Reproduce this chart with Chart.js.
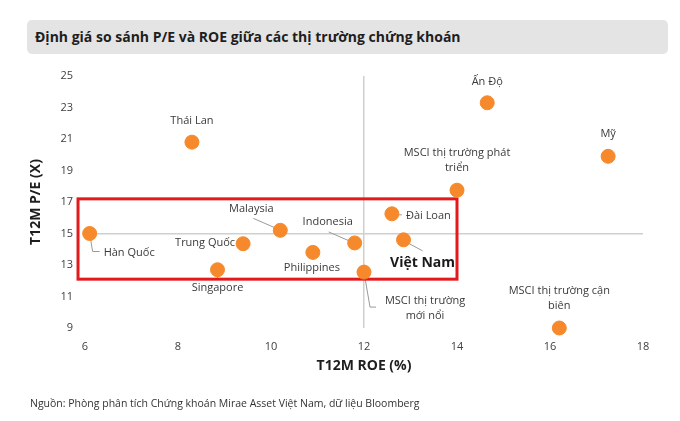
<!DOCTYPE html>
<html>
<head>
<meta charset="utf-8">
<script src="https://cdn.jsdelivr.net/npm/chart.js@4.4.1/dist/chart.umd.min.js"></script>
<style>
  body { margin: 0; background: #fff; }
  #wrap { position: relative; width: 680px; height: 421px; overflow: hidden; }
  #title {
    position: absolute; left: 27px; top: 20px; width: 641px; height: 34px;
    background: #e4e4e4; border-radius: 5px; box-sizing: border-box; padding-left: 8px;
    font: bold 14px "Liberation Sans Narrow", "Open Sans", sans-serif; line-height: 34px; color: #1e1e1e;
  }
  #source {
    position: absolute; left: 30px; top: 396px;
    font: 10.5px "Liberation Sans Narrow", "Open Sans", sans-serif; color: #333;
  }
  canvas { position: absolute; left: 0; top: 0; }
</style>
</head>
<body>
<div id="wrap">
  <canvas id="chart" width="680" height="421"></canvas>
  <div id="title">Định giá so sánh P/E và ROE giữa các thị trường chứng khoán</div>
  <div id="source">Nguồn: Phòng phân tích Chứng khoán Mirae Asset Việt Nam, dữ liệu Bloomberg</div>
</div>
<script>
// Markets, T12M ROE (%) and T12M P/E (x)
const markets = [
  'Hàn Quốc', 'Thái Lan', 'Singapore', 'Trung Quốc', 'Malaysia', 'Philippines', 'Indonesia',
  'MSCI thị trường\nmới nổi', 'Đài Loan', 'Việt Nam', 'MSCI thị trường phát\ntriển',
  'Ấn Độ', 'Mỹ', 'MSCI thị trường cận\nbiên'
];
const roe = [6.1, 8.3, 8.85, 9.4, 10.2, 10.9, 11.8, 12.0, 12.6, 12.85, 14.0, 14.65, 17.25, 16.2];
const pe  = [15.0, 20.8, 12.7, 14.35, 15.2, 13.8, 14.4, 12.55, 16.25, 14.6, 17.75, 23.3, 19.9, 9.0];

const xTicks = [6, 8, 10, 12, 14, 16, 18];
const yTicks = [9, 11, 13, 15, 17, 19, 21, 23, 25];

// highlighted zone (in data units)
const boxRoe = [5.85, 14.0];
const boxPe = [12.1, 17.2];

// label placement relative to each point (pixels): dx, dy, align, leader polyline
const labelLayout = [
  { dx: 14, dy: 19, align: 'left', leader: [[0, 0], [3, 18], [10, 18]] },
  { dx: 0, dy: -21 },
  { dx: 0, dy: 18, leader: [[0, 0], [0, 9]] },
  { dx: -38, dy: -1 },
  { dx: -29, dy: -21, leader: [[-27, -12], [-4, -2]] },
  { dx: -1, dy: 15 },
  { dx: -27, dy: -21, leader: [[-26, -11], [-3, -1]] },
  { dx: 61, dy: 29, leader: [[0, 0], [6, 35], [12, 35]] },
  { dx: 14, dy: 2, align: 'left', leader: [[4, 1], [10, 1]] },
  { dx: 19, dy: 23, bold: true, leader: [[4, 3], [19, 11]] },
  { dx: 0, dy: -37 },
  { dx: 0, dy: -21 },
  { dx: 0, dy: -22 },
  { dx: 0, dy: -37 }
];

const FONT = '"Open Sans", "Noto Sans", sans-serif';

const annotations = {
  id: 'annotations',
  beforeDatasetsDraw(chart) {
    const { ctx, scales: { x, y } } = chart;
    const meta = chart.getDatasetMeta(0);
    ctx.save();
    // leader lines
    ctx.strokeStyle = '#9a9a9a';
    ctx.lineWidth = 1;
    labelLayout.forEach((l, i) => {
      if (!l.leader) return;
      const p = meta.data[i];
      ctx.beginPath();
      l.leader.forEach((pt, k) => {
        if (k === 0) ctx.moveTo(p.x + pt[0], p.y + pt[1]);
        else ctx.lineTo(p.x + pt[0], p.y + pt[1]);
      });
      ctx.stroke();
    });
    // red frame
    const left = x.getPixelForValue(boxRoe[0]);
    const right = x.getPixelForValue(boxRoe[1]);
    const top = y.getPixelForValue(boxPe[1]);
    const bottom = y.getPixelForValue(boxPe[0]);
    ctx.strokeStyle = '#e3191c';
    ctx.lineWidth = 3;
    ctx.strokeRect(left, top, right - left, bottom - top);
    ctx.restore();
  },
  afterDatasetsDraw(chart) {
    const { ctx } = chart;
    const meta = chart.getDatasetMeta(0);
    ctx.save();
    ctx.textBaseline = 'middle';
    markets.forEach((name, i) => {
      const l = labelLayout[i];
      const p = meta.data[i];
      const lines = name.split('\n');
      ctx.font = l.bold ? 'bold 14px ' + FONT : '11px ' + FONT;
      ctx.fillStyle = l.bold ? '#1a1a1a' : '#3a3a3a';
      ctx.textAlign = l.align || 'center';
      lines.forEach((t, k) => {
        ctx.fillText(t, p.x + l.dx, p.y + l.dy + k * 15);
      });
    });
    ctx.restore();
  }
};

const lineOnly = v => ctx => (ctx.tick && ctx.tick.value === v) ? '#cfcfcf' : 'rgba(0,0,0,0)';

new Chart(document.getElementById('chart'), {
  type: 'scatter',
  data: {
    datasets: [{
      data: roe.map((v, i) => ({ x: v, y: pe[i] })),
      backgroundColor: '#f5892b',
      borderColor: '#f5892b',
      pointRadius: 7,
      pointHoverRadius: 7,
      clip: false
    }]
  },
  options: {
    responsive: false,
    devicePixelRatio: 1,
    animation: false,
    layout: { padding: { left: 0, top: 76, right: 37, bottom: 43 } },
    plugins: { legend: { display: false }, tooltip: { enabled: false } },
    scales: {
      x: {
        type: 'linear', min: 6, max: 18,
        afterBuildTicks: s => { s.ticks = xTicks.map(v => ({ value: v })); },
        afterFit: s => { s.height = 50; },
        border: { display: false },
        grid: { color: lineOnly(12), lineWidth: 1.5, drawTicks: false },
        ticks: { padding: 12, color: '#404040', font: { family: FONT, size: 11 } },
        title: { display: true, text: 'T12M ROE (%)', color: '#1e1e1e', padding: { bottom: 4 },
                 font: { family: FONT, size: 14, weight: 'bold' } }
      },
      y: {
        type: 'linear', min: 9, max: 25,
        afterBuildTicks: s => { s.ticks = yTicks.map(v => ({ value: v })); },
        afterFit: s => { s.width = 85; },
        border: { display: false },
        grid: { color: lineOnly(15), lineWidth: 1.5, drawTicks: false },
        ticks: { padding: 12, color: '#404040', font: { family: FONT, size: 11 } },
        title: { display: true, text: 'T12M P/E (X)', color: '#1e1e1e', padding: { top: 28 },
                 font: { family: FONT, size: 14, weight: 'bold' } }
      }
    }
  },
  plugins: [annotations]
});
</script>
</body>
</html>
